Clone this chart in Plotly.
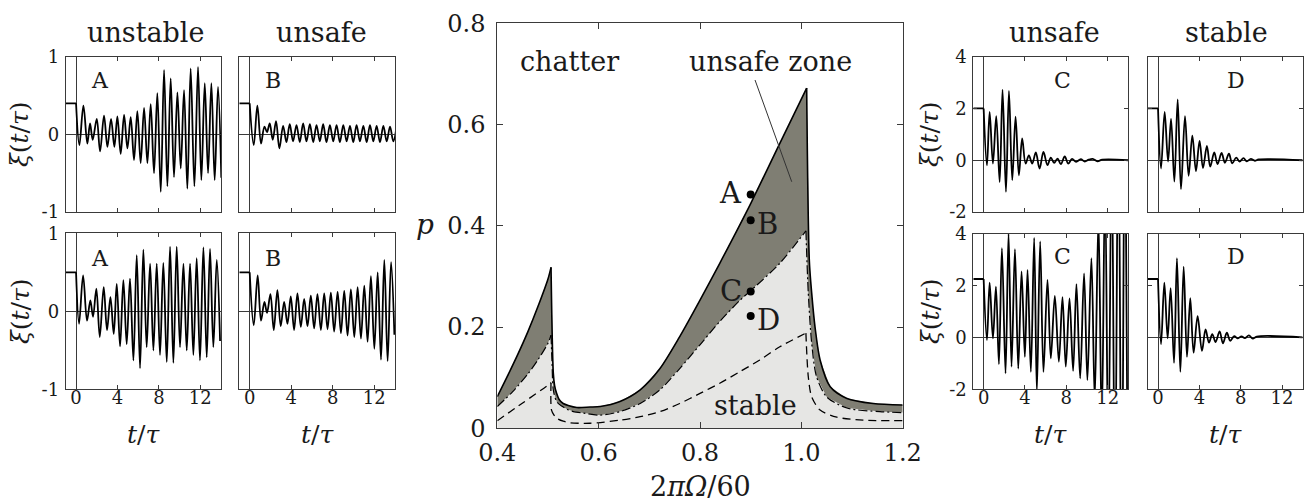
import plotly.graph_objects as go

# ---------------- data: stability chart ----------------
OMEGA_UPPER = [0.40, 0.42, 0.44, 0.46, 0.48, 0.50, 0.506, 0.5105, 0.513, 0.517, 0.522, 0.530, 0.540, 0.557,
               0.583, 0.603, 0.642, 0.682, 0.721, 0.760, 0.800, 0.839, 0.90, 0.9575, 1.0105, 1.0157, 1.0204,
               1.027, 1.037, 1.057, 1.09, 1.142, 1.20]
P_UPPER = [0.0625, 0.103, 0.145, 0.190, 0.240, 0.295, 0.318, 0.109, 0.085, 0.069, 0.057, 0.049, 0.045, 0.041,
           0.042, 0.043, 0.053, 0.076, 0.118, 0.181, 0.253, 0.326, 0.444, 0.563, 0.672, 0.332, 0.267,
           0.200, 0.135, 0.082, 0.059, 0.049, 0.046]

OMEGA_MID = [0.40, 0.43, 0.46, 0.48, 0.50, 0.506, 0.508, 0.5105, 0.517, 0.527, 0.537, 0.55, 0.57, 0.603,
             0.642, 0.682, 0.721, 0.760, 0.800, 0.839, 0.879, 0.898, 0.9575, 1.009, 1.0137, 1.0204, 1.030,
             1.05, 1.09, 1.155, 1.20]
P_MID = [0.043, 0.072, 0.107, 0.135, 0.168, 0.184, 0.13, 0.076, 0.053, 0.044, 0.038, 0.033, 0.030, 0.026,
         0.033, 0.049, 0.076, 0.118, 0.165, 0.211, 0.253, 0.270, 0.326, 0.390, 0.267, 0.168, 0.102,
         0.062, 0.040, 0.033, 0.031]

OMEGA_LOW = [0.40, 0.45, 0.50, 0.506, 0.507, 0.512, 0.517, 0.53, 0.543, 0.583, 0.642, 0.682, 0.721, 0.760,
             0.800, 0.839, 0.879, 0.918, 0.9575, 1.009, 1.0137, 1.0204, 1.037, 1.07, 1.122, 1.20]
P_LOW = [0.015, 0.050, 0.085, 0.090, 0.036, 0.026, 0.020, 0.014, 0.011, 0.010, 0.016, 0.023, 0.033, 0.049,
         0.069, 0.089, 0.112, 0.135, 0.161, 0.188, 0.102, 0.062, 0.036, 0.022, 0.016, 0.015]

POINT_NAMES = ["A", "B", "C", "D"]
POINT_OMEGA = [0.9, 0.9, 0.9, 0.9]
POINT_P = [0.462, 0.411, 0.270, 0.222]

# ---------------- data: time histories (extrema) ----------------
T_A1 = [-1.0, 0.0, 0.32, 0.71, 1.09, 1.35, 1.61, 2.00, 2.32, 2.70, 3.03, 3.38, 3.70, 3.99, 4.31, 4.64, 4.96,
        5.28, 5.60, 5.92, 6.24, 6.57, 6.89, 7.21, 7.53, 7.85, 8.18, 8.50, 8.82, 9.14, 9.46, 9.79, 10.11,
        10.43, 10.75, 11.07, 11.43, 11.78, 12.10, 12.43, 12.75, 13.07, 13.39, 13.71, 14.03]
XI_A1 = [0.40, 0.40, -0.14, 0.37, -0.12, 0.14, -0.07, 0.20, -0.22, 0.24, -0.16, 0.20, -0.16, 0.23, -0.25,
         0.25, -0.18, 0.22, -0.33, 0.30, -0.37, 0.34, -0.37, 0.39, -0.50, 0.53, -0.74, 0.83, -0.67, 0.72,
         -0.55, 0.54, -0.44, 0.57, -0.70, 0.85, -0.67, 0.87, -0.59, 0.66, -0.50, 0.66, -0.59, 0.61, -0.56]

T_B1 = [-1.0, 0.0, 0.39, 0.74, 1.09, 1.42, 1.67, 1.93, 2.22, 2.54, 2.86, 3.22, 3.54, 3.86, 4.18, 4.51, 4.83,
        5.15, 5.47, 5.80, 6.12, 6.44, 6.76, 7.08, 7.40, 7.73, 8.05, 8.37, 8.69, 9.02, 9.34, 9.66, 9.98,
        10.30, 10.62, 10.95, 11.27, 11.59, 11.91, 12.23, 12.55, 12.88, 13.20, 13.52, 13.84, 14.16]
XI_B1 = [0.40, 0.40, -0.14, 0.37, -0.12, 0.10, 0.03, 0.14, -0.07, 0.17, -0.18, 0.11, -0.10, 0.13, -0.09,
         0.12, -0.10, 0.14, -0.09, 0.13, -0.10, 0.12, -0.09, 0.13, -0.10, 0.12, -0.09, 0.12, -0.10, 0.12,
         -0.09, 0.11, -0.10, 0.12, -0.09, 0.11, -0.10, 0.12, -0.09, 0.11, -0.10, 0.11, -0.09, 0.10, -0.09, 0.11]

T_A2 = [-1.0, 0.0, 0.29, 0.68, 1.06, 1.38, 1.64, 1.96, 2.29, 2.67, 2.99, 3.32, 3.64, 3.93, 4.25, 4.57, 4.89,
        5.21, 5.54, 5.86, 6.18, 6.50, 6.82, 7.15, 7.47, 7.79, 8.11, 8.43, 8.76, 9.08, 9.40, 9.72, 10.04,
        10.37, 10.69, 11.01, 11.33, 11.65, 11.97, 12.30, 12.62, 12.94, 13.26, 13.59, 13.91]
XI_A2 = [0.50, 0.50, -0.16, 0.46, -0.12, 0.14, -0.07, 0.29, -0.33, 0.31, -0.24, 0.18, -0.29, 0.35, -0.45,
         0.40, -0.42, 0.42, -0.63, 0.72, -0.73, 0.79, -0.46, 0.61, -0.50, 0.61, -0.56, 0.62, -0.65, 0.83,
         -0.66, 0.83, -0.46, 0.61, -0.50, 0.61, -0.56, 0.68, -0.63, 0.82, -0.59, 0.80, -0.46, 0.66, -0.38]

T_B2 = [-1.0, 0.0, 0.39, 0.77, 1.09, 1.42, 1.67, 2.00, 2.32, 2.67, 2.99, 3.32, 3.64, 3.96, 4.28, 4.60, 4.93,
        5.25, 5.57, 5.89, 6.21, 6.53, 6.86, 7.18, 7.50, 7.82, 8.14, 8.47, 8.79, 9.11, 9.43, 9.75, 10.08,
        10.40, 10.72, 11.04, 11.36, 11.68, 12.01, 12.33, 12.65, 12.97, 13.29, 13.62, 13.94]
XI_B2 = [0.50, 0.50, -0.18, 0.46, -0.12, 0.12, -0.02, 0.22, -0.24, 0.27, -0.19, 0.12, -0.16, 0.19, -0.24,
         0.23, -0.20, 0.16, -0.19, 0.20, -0.22, 0.22, -0.24, 0.23, -0.23, 0.24, -0.26, 0.25, -0.28, 0.26,
         -0.31, 0.28, -0.33, 0.31, -0.35, 0.33, -0.39, 0.45, -0.48, 0.50, -0.62, 0.66, -0.64, 0.63, -0.30]

T_C1 = [-1.0, 0.0, 0.32, 0.58, 0.90, 1.22, 1.55, 1.83, 2.16, 2.45, 2.77, 3.09, 3.41, 3.73, 4.06, 4.38, 4.70,
        5.05, 5.41, 5.79, 6.18, 6.50, 6.82, 7.15, 7.47, 7.85, 8.18, 8.56, 8.95, 9.40, 9.79, 10.17, 10.56,
        11.01, 11.49, 14.0]
XI_C1 = [2.00, 2.00, -0.20, 1.87, -0.13, 1.70, -0.84, 2.73, -1.22, 2.68, -0.77, 1.68, -0.58, 0.84, -0.13,
         0.19, -0.13, 0.30, -0.32, 0.32, -0.19, 0.10, -0.10, 0.06, -0.15, 0.15, -0.13, 0.05, -0.06, 0.04,
         -0.05, 0.02, 0.05, -0.04, 0.02, 0.0]

T_D1 = [-1.0, 0.0, 0.29, 0.64, 0.97, 1.26, 1.58, 1.90, 2.22, 2.61, 2.96, 3.32, 3.67, 4.02, 4.35, 4.73, 5.05,
        5.44, 5.76, 6.15, 6.47, 6.86, 7.18, 7.56, 7.89, 8.27, 8.59, 8.98, 9.37, 9.75, 14.0]
XI_D1 = [2.00, 2.00, -0.32, 1.87, -0.05, 1.60, -0.83, 2.35, -1.12, 1.70, -0.60, 0.95, -0.42, 0.75, -0.30,
         0.55, -0.25, 0.30, -0.15, 0.28, -0.10, 0.25, -0.12, 0.10, -0.05, 0.08, -0.04, 0.05, -0.02, 0.03, 0.0]

T_C2 = [-1.0, 0.0, 0.32, 0.58, 0.90, 1.19, 1.48, 1.77, 2.12, 2.41, 2.70, 3.03, 3.35, 3.67, 3.99, 4.25, 4.57,
        4.89, 5.15, 5.47, 5.79, 6.18, 6.50, 6.89, 7.28, 7.63, 7.95, 8.31, 8.66, 8.98, 9.34, 9.72, 10.04,
        10.43, 10.75, 11.11, 11.43, 11.75, 12.07, 12.39, 12.71, 13.04, 13.36, 13.68, 14.00]
XI_C2 = [2.25, 2.25, -0.10, 2.11, -0.04, 1.96, -1.03, 3.44, -1.39, 4.00, -1.13, 3.40, -1.20, 2.54, -0.75,
         2.60, -1.33, 3.83, -2.10, 3.70, -1.33, 2.22, -0.81, 1.60, -0.94, 1.55, -1.13, 1.50, -1.29, 2.05,
         -1.58, 2.47, -1.65, 3.05, -2.40, 4.60, -3.50, 6.00, -5.00, 7.50, -6.50, 9.00, -8.00, 10.5, -9.5]

T_D2 = [-1.0, 0.0, 0.29, 0.61, 0.93, 1.22, 1.55, 1.83, 2.16, 2.48, 2.80, 3.12, 3.44, 3.83, 4.25, 4.60, 4.93,
        5.25, 5.57, 5.96, 6.28, 6.66, 6.99, 7.37, 7.69, 8.08, 8.40, 8.79, 9.17, 9.56, 14.0]
XI_D2 = [2.25, 2.25, -0.26, 2.11, -0.04, 1.90, -0.98, 3.05, -1.33, 2.73, -0.75, 1.51, -0.59, 0.82, -0.52,
         0.31, -0.20, 0.13, -0.18, 0.23, -0.23, 0.18, -0.13, 0.05, -0.04, 0.04, -0.03, 0.08, -0.05, 0.03, 0.0]

SMALL_XTICKS = [0, 4, 8, 12]
LEFT_YTICKS = [-1, 0, 1]
RIGHT_YTICKS = [-2, 0, 2, 4]
CENTER_XTICKS = [0.4, 0.6, 0.8, 1.0, 1.2]
CENTER_XTEXT = ["0.4", "0.6", "0.8", "1.0", "1.2"]
CENTER_YTICKS = [0, 0.2, 0.4, 0.6, 0.8]
CENTER_YTEXT = ["0", "0.2", "0.4", "0.6", "0.8"]

# ---------------- figure ----------------
W, H = 1309, 504
FONT = "DejaVu Serif"
INK = "#1a1a1a"
FRAME = "#3a3a3a"


def px_x(a, b):
    return [a / W, b / W]


def px_y(top, bottom):
    return [1 - bottom / H, 1 - top / H]


fig = go.Figure()
layout = dict(width=W, height=H, margin=dict(l=0, r=0, t=0, b=0, autoexpand=False), paper_bgcolor="white",
              plot_bgcolor="white", showlegend=False, font=dict(family=FONT, color=INK))

# center axes (x, y)
layout["xaxis"] = dict(domain=px_x(497.3, 902.7), anchor="y", range=[0.4, 1.2], tickvals=CENTER_XTICKS,
                       ticktext=CENTER_XTEXT, ticks="inside", ticklen=6, tickcolor=FRAME, showline=True,
                       linecolor=FRAME, linewidth=1, mirror="ticks", showgrid=False, zeroline=False,
                       tickfont=dict(size=24, family=FONT, color=INK), ticklabelstandoff=3, automargin=False)
layout["yaxis"] = dict(domain=px_y(23.3, 428.3), anchor="x", range=[0, 0.8], tickvals=CENTER_YTICKS,
                       ticktext=CENTER_YTEXT, ticks="inside", ticklen=6, tickcolor=FRAME, showline=True,
                       linecolor=FRAME, linewidth=1, mirror="ticks", showgrid=False, zeroline=False,
                       tickfont=dict(size=24, family=FONT, color=INK), ticklabelstandoff=6, automargin=False)

panels = [
    # idx, x px range, y px range, yticks, show x labels, show y labels, T, XI
    (2, (65.7, 221.0), (56.7, 212.0), LEFT_YTICKS, False, True, T_A1, XI_A1),
    (3, (239.3, 395.0), (56.7, 212.0), LEFT_YTICKS, False, False, T_B1, XI_B1),
    (4, (65.7, 221.0), (233.3, 389.3), LEFT_YTICKS, True, True, T_A2, XI_A2),
    (5, (239.3, 395.0), (233.3, 389.3), LEFT_YTICKS, True, False, T_B2, XI_B2),
    (6, (973.3, 1128.3), (56.7, 212.0), RIGHT_YTICKS, False, True, T_C1, XI_C1),
    (7, (1147.7, 1302.7), (56.7, 212.0), RIGHT_YTICKS, False, False, T_D1, XI_D1),
    (8, (973.3, 1128.3), (233.6, 389.3), RIGHT_YTICKS, True, True, T_C2, XI_C2),
    (9, (1147.7, 1302.7), (233.6, 389.3), RIGHT_YTICKS, True, False, T_D2, XI_D2),
]

for idx, (xa, xb), (yt, yb), yticks, showx, showy, T, XI in panels:
    layout[f"xaxis{idx}"] = dict(domain=px_x(xa, xb), anchor=f"y{idx}", range=[-1, 14],
                                 tickvals=SMALL_XTICKS, ticktext=[str(v) for v in SMALL_XTICKS],
                                 ticks="inside", ticklen=4, tickcolor=FRAME, showline=True, linecolor=FRAME,
                                 linewidth=1, mirror="ticks", showgrid=False, zeroline=True,
                                 zerolinecolor=FRAME, zerolinewidth=1, showticklabels=showx,
                                 tickfont=dict(size=18, family=FONT, color=INK), ticklabelstandoff=-8,
                                 automargin=False)
    layout[f"yaxis{idx}"] = dict(domain=px_y(yt, yb), anchor=f"x{idx}", range=[yticks[0], yticks[-1]],
                                 tickvals=yticks, ticktext=[str(v) for v in yticks],
                                 ticks="inside", ticklen=4, tickcolor=FRAME, showline=True, linecolor=FRAME,
                                 linewidth=1, mirror="ticks", showgrid=False, zeroline=True,
                                 zerolinecolor=FRAME, zerolinewidth=1, showticklabels=showy,
                                 tickfont=dict(size=18, family=FONT, color=INK), ticklabelstandoff=2,
                                 automargin=False)
    # flat pre-history (first two samples) and oscillating response
    fig.add_trace(go.Scatter(x=T[:2], y=XI[:2], mode="lines", xaxis=f"x{idx}", yaxis=f"y{idx}",
                             line=dict(color="black", width=1.8), hoverinfo="skip"))
    fig.add_trace(go.Scatter(x=T[1:], y=XI[1:], mode="lines", xaxis=f"x{idx}", yaxis=f"y{idx}",
                             line=dict(color="black", width=1.8, shape="spline", smoothing=1.0),
                             hoverinfo="skip"))

# center chart: filled zones (fills only)
fig.add_trace(go.Scatter(x=OMEGA_MID, y=P_MID, mode="lines", fill="tozeroy", fillcolor="#e6e6e4",
                         line=dict(width=0, color="rgba(0,0,0,0)"), xaxis="x", yaxis="y", hoverinfo="skip"))
fig.add_trace(go.Scatter(x=OMEGA_UPPER, y=P_UPPER, mode="lines", fill="tonexty", fillcolor="#7f7e73",
                         line=dict(width=0, color="rgba(0,0,0,0)"), xaxis="x", yaxis="y", hoverinfo="skip"))


def cusp_indices(omega, p):
    """indices of the two resonance peaks (left / right lobe maxima)"""
    left = max((i for i in range(len(omega)) if omega[i] < 0.7), key=lambda i: p[i])
    right = max((i for i in range(len(omega)) if omega[i] >= 0.7), key=lambda i: p[i])
    return [0, left, right, len(omega) - 1]


def add_boundary(omega, p, line):
    cuts = cusp_indices(omega, p)
    for a, b in zip(cuts[:-1], cuts[1:]):
        fig.add_trace(go.Scatter(x=omega[a:b + 1], y=p[a:b + 1], mode="lines", xaxis="x", yaxis="y",
                                 line=dict(shape="spline", smoothing=0.8, **line), hoverinfo="skip"))


add_boundary(OMEGA_LOW, P_LOW, dict(color="black", width=1.3, dash="8px,5px"))
add_boundary(OMEGA_MID, P_MID, dict(color="black", width=1.2, dash="9px,3px,2px,3px"))
add_boundary(OMEGA_UPPER, P_UPPER, dict(color="black", width=1.6))

fig.add_trace(go.Scatter(x=POINT_OMEGA, y=POINT_P, mode="markers", marker=dict(color="black", size=8),
                         xaxis="x", yaxis="y", hoverinfo="skip"))

annotations = []


def note(**kw):
    base = dict(showarrow=False, xanchor="center", yanchor="middle")
    base.update(kw)
    annotations.append(base)


# point labels
for name, om, p in zip(POINT_NAMES, POINT_OMEGA, POINT_P):
    left = name in ("A", "C")
    note(x=om, y=p, xref="x", yref="y", text=name, xanchor="right" if left else "left",
         xshift=-7 if left else 4, yshift=-4 if not left else 1,
         font=dict(size=29, family=FONT, color=INK))
# zone labels
for txt, xx, yy in [("chatter", 0.543, 0.724), ("unsafe zone", 0.940, 0.724), ("stable", 0.909, 0.046)]:
    note(x=xx, y=yy, xref="x", yref="y", text=txt, font=dict(size=27, family=FONT, color=INK))

# small-panel letters
for xr, yr, txt, xx, yy in [("x2", "y2", "A", 2.3, 0.70), ("x3", "y3", "B", 2.2, 0.70),
                             ("x4", "y4", "A", 2.3, 0.68), ("x5", "y5", "B", 2.2, 0.68),
                             ("x6", "y6", "C", 7.6, 3.1), ("x7", "y7", "D", 7.55, 3.1),
                             ("x8", "y8", "C", 7.6, 3.12), ("x9", "y9", "D", 7.55, 3.12)]:
    note(x=xx, y=yy, xref=xr, yref=yr, text=txt, font=dict(size=22, family=FONT, color=INK))

# column titles
for txt, cx in [("unstable", 145), ("unsafe", 321.7), ("unsafe", 1054), ("stable", 1226)]:
    note(x=cx / W, y=1 - 33 / H, xref="paper", yref="paper", text=txt,
         font=dict(size=27, family=FONT, color=INK))

# axis titles of small panels
for cy in (134, 311):
    for cx in (20, 930):
        note(x=cx / W, y=1 - cy / H, xref="paper", yref="paper", text="<i>ξ</i>(<i>t</i>/<i>τ</i>)",
             textangle=-90, font=dict(size=25, family=FONT, color=INK))
for cx in (143.4, 317.2, 1050.8, 1225.2):
    note(x=cx / W, y=1 - 434 / H, xref="paper", yref="paper", text="<i>t</i>/<i>τ</i>",
         font=dict(size=25, family=FONT, color=INK))

# center axis titles
note(x=425 / W, y=1 - 225 / H, xref="paper", yref="paper", text="<i>p</i>",
     font=dict(size=28, family=FONT, color=INK))
note(x=700 / W, y=1 - 486 / H, xref="paper", yref="paper", text="2<i>πΩ</i>/60",
     font=dict(size=27, family=FONT, color=INK))

layout["annotations"] = annotations
layout["shapes"] = [dict(type="line", xref="x", yref="y", x0=0.9086, y0=0.688, x1=0.981, y1=0.487,
                         line=dict(color="#333", width=1))]

fig.update_layout(**layout)
fig.write_html("out.html", config={"displayModeBar": False},
               post_script="document.body.style.margin='0px';document.body.style.padding='0px';")
